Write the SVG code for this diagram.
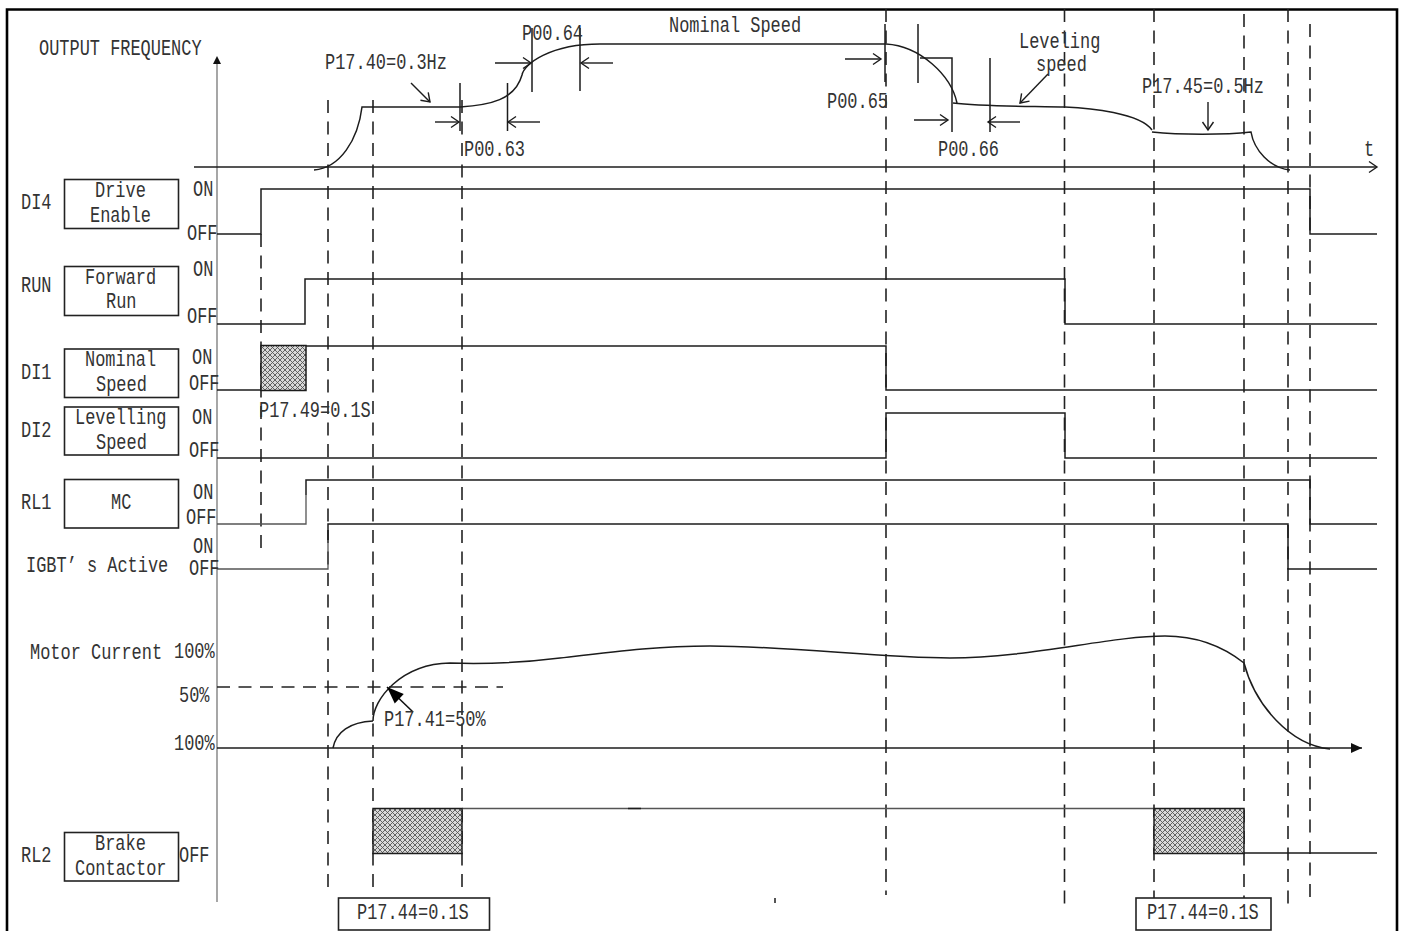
<svg xmlns="http://www.w3.org/2000/svg" width="1402" height="931" viewBox="0 0 1402 931">
<style>
text{font-family:"Liberation Mono","DejaVu Sans Mono",monospace;font-size:22px;fill:#333}
.s{fill:none;stroke:#1c1c1c;stroke-width:1.5}
.t{fill:none;stroke:#555;stroke-width:1.3}
.d{fill:none;stroke:#222;stroke-width:1.6;stroke-dasharray:13 8.5}
.a{fill:none;stroke:#1c1c1c;stroke-width:1.4;marker-end:url(#open)}
.box{fill:#fff;stroke:#222;stroke-width:1.6}
.h{fill:url(#hatch);stroke:#1c1c1c;stroke-width:1.5}
</style>
<defs>
<pattern id="hatch" width="5" height="5" patternUnits="userSpaceOnUse">
<rect width="5" height="5" fill="#d8d8d8"/>
<path d="M0 0L5 5M5 0L0 5" stroke="#555" stroke-width="0.9"/>
</pattern>
<marker id="open" markerUnits="userSpaceOnUse" markerWidth="12" markerHeight="14" refX="10" refY="7" orient="auto">
<path d="M2 1.5L10 7L2 12.5" fill="none" stroke="#1c1c1c" stroke-width="1.4"/>
</marker>
<marker id="fill" markerUnits="userSpaceOnUse" markerWidth="14" markerHeight="12" refX="12" refY="6" orient="auto">
<path d="M1 1L12 6L1 11Z" fill="#111"/>
</marker>
<marker id="big" markerUnits="userSpaceOnUse" markerWidth="20" markerHeight="16" refX="18" refY="8" orient="auto">
<path d="M1 1.500L18 8L1 14.500Z" fill="#000"/>
</marker>
</defs>
<rect width="1402" height="931" fill="#fff"/>
<path d="M7 932V9.5H1397V932" fill="none" stroke="#000" stroke-width="2.6"/>

<g id="connectors">
<g id="axes">
<path d="M217 902V63" stroke="#777" stroke-width="1.3" fill="none"/>
<path d="M217 56L213 64H221Z" fill="#111"/>
<path class="a" d="M194 167H1377"/>
<path class="s" d="M217 748H1362" marker-end="url(#fill)"/>
</g>
<g id="dashed-guides">
<path class="d" d="M261 234V548"/>
<path class="d" d="M328 100V893"/>
<path class="d" d="M373 100V893"/>
<path class="d" d="M462 100V893"/>
<path class="d" d="M886 9V895"/>
<path class="d" d="M1064.500 9V905"/>
<path class="d" d="M1154 9V898"/>
<path class="d" d="M1244 14V898"/>
<path class="d" d="M1288 9V910"/>
<path class="d" d="M1310 24V905"/>
<path class="d" d="M217 687H503"/>
</g>
<g id="frequency-curve">
<path class="s" d="M314 170C340 168 358 140 362 107H460C490 105 515 100 522 75C524 64 550 44 600 44H886C920 46 951 75 957 103"/>
<path class="s" d="M953 103C985 107 1040 106 1065 107C1090 108 1140 113 1152 130"/>
<path class="s" d="M1152 132C1180 135 1225 135 1251 132C1254 150 1270 168 1290 170"/>
</g>
<g id="ticks">
<path class="s" d="M460 83V131M507.500 83V131M532 28V92M580 28V91M885 24V82M918 24V83M952 132V58H920M990 58V132"/>
<path class="a" d="M435 122H459"/>
<path class="a" d="M540 122H508"/>
<path class="a" d="M495 63H531"/>
<path class="a" d="M613 63H581"/>
<path class="a" d="M411 83L430 102"/>
<path class="a" d="M845 59H881"/>
<path class="a" d="M914 120H948"/>
<path class="a" d="M1020 122H988"/>
<path class="a" d="M1048 74L1020 103"/>
<path class="a" d="M1208 102V130"/>
</g>
<g id="signals">
<path class="s" d="M217 234H261V189H1310V234H1377"/>
<path class="s" d="M217 324H305V279H1065V324H1377"/>
<path class="s" d="M217 390H261M306 346H886V390H1377"/>
<path class="s" d="M217 458H886V413H1065V458H1377"/>
<path class="t" d="M217 524H306V495"/>
<path class="s" d="M306 495V480H1310V524H1377"/>
<path class="t" d="M217 569H328V540"/>
<path class="s" d="M328 540V524H1288V569H1377"/>
<path class="t" d="M462 808.500H1154"/>
<path class="s" d="M628 808.500H641M1244 853H1377"/>
<path class="s" d="M775 898V903"/>
<rect class="h" x="261" y="345.500" width="45" height="45"/>
<rect class="h" x="373" y="808.500" width="89" height="45"/>
<rect class="h" x="1154" y="808.500" width="90" height="45"/>
</g>
<g id="current-curve">
<path class="s" d="M333 748C336 732 350 722 373 721"/>
<path class="s" d="M373 721C373 700 400 664 450 663C480 664 520 663 560 658C620 651 660 646 710 646C790 646 880 658 950 658C1030 658 1110 636 1165 636C1200 636 1225 648 1244 663C1255 705 1290 745 1330 749"/>
<path d="M413 712L387 687" fill="none" stroke="#111" stroke-width="1.6" marker-end="url(#big)"/>
</g>
</g>

<g id="node-drive-enable"><rect class="box" x="64.500" y="179.500" width="114" height="49"/>
<text transform="matrix(.77 0 0 1 95 197)">Drive</text>
<text transform="matrix(.77 0 0 1 90 222)">Enable</text></g>
<g id="node-forward-run"><rect class="box" x="64.500" y="266.500" width="114" height="49"/>
<text transform="matrix(.77 0 0 1 85 284)">Forward</text>
<text transform="matrix(.77 0 0 1 106 308)">Run</text></g>
<g id="node-nominal-speed"><rect class="box" x="64.500" y="349" width="114" height="48.500"/>
<text transform="matrix(.77 0 0 1 85 366)">Nominal</text>
<text transform="matrix(.77 0 0 1 96 391)">Speed</text></g>
<g id="node-levelling-speed"><rect class="box" x="64.500" y="407" width="114" height="48"/>
<text transform="matrix(.77 0 0 1 75 424)">Levelling</text>
<text transform="matrix(.77 0 0 1 96 449)">Speed</text></g>
<g id="node-mc"><rect class="box" x="64.500" y="479.500" width="114" height="48.500"/>
<text transform="matrix(.77 0 0 1 111 509)">MC</text></g>
<g id="node-brake-contactor"><rect class="box" x="64.500" y="832.500" width="114" height="48.500"/>
<text transform="matrix(.77 0 0 1 95 850)">Brake</text>
<text transform="matrix(.77 0 0 1 75 875)">Contactor</text></g>
<g id="node-p1744-a"><rect class="box" x="338.500" y="898" width="151" height="32"/>
<text transform="matrix(.77 0 0 1 357 919)">P17.44=0.1S</text></g>
<g id="node-p1744-b"><rect class="box" x="1136" y="898" width="135" height="32"/>
<text transform="matrix(.77 0 0 1 1147 919)">P17.44=0.1S</text></g>

<g id="labels">
<text transform="matrix(.77 0 0 1 39 55)">OUTPUT FREQUENCY</text>
<text transform="matrix(.77 0 0 1 325 69)">P17.40=0.3Hz</text>
<text transform="matrix(.77 0 0 1 522 40)">P00.64</text>
<text transform="matrix(.77 0 0 1 669 32)">Nominal Speed</text>
<text transform="matrix(.77 0 0 1 464 156)">P00.63</text>
<text transform="matrix(.77 0 0 1 1019 48)">Leveling</text>
<text transform="matrix(.77 0 0 1 1036 71)">speed</text>
<text transform="matrix(.77 0 0 1 827 108)">P00.65</text>
<text transform="matrix(.77 0 0 1 938 156)">P00.66</text>
<text transform="matrix(.77 0 0 1 1142 93)">P17.45=0.5Hz</text>
<text transform="matrix(.77 0 0 1 1364 156)">t</text>
<text transform="matrix(.77 0 0 1 21 209)">DI4</text>
<text transform="matrix(.77 0 0 1 21 292)">RUN</text>
<text transform="matrix(.77 0 0 1 21 379)">DI1</text>
<text transform="matrix(.77 0 0 1 21 437)">DI2</text>
<text transform="matrix(.77 0 0 1 21 509)">RL1</text>
<text transform="matrix(.77 0 0 1 21 862)">RL2</text>
<text transform="matrix(.77 0 0 1 193 196)">ON</text>
<text transform="matrix(.77 0 0 1 187 240)">OFF</text>
<text transform="matrix(.77 0 0 1 193 276)">ON</text>
<text transform="matrix(.77 0 0 1 187 323)">OFF</text>
<text transform="matrix(.77 0 0 1 192 364)">ON</text>
<text transform="matrix(.77 0 0 1 189 390)">OFF</text>
<text transform="matrix(.77 0 0 1 192 424)">ON</text>
<text transform="matrix(.77 0 0 1 189 457)">OFF</text>
<text transform="matrix(.77 0 0 1 193 499)">ON</text>
<text transform="matrix(.77 0 0 1 186 524)">OFF</text>
<text transform="matrix(.77 0 0 1 193 553)">ON</text>
<text transform="matrix(.77 0 0 1 189 575)">OFF</text>
<text transform="matrix(.77 0 0 1 26 572)">IGBT’ s Active</text>
<text transform="matrix(.77 0 0 1 259 417)">P17.49=0.1S</text>
<text transform="matrix(.77 0 0 1 30 659)">Motor Current</text>
<text transform="matrix(.77 0 0 1 174 658)">100%</text>
<text transform="matrix(.77 0 0 1 179 702)">50%</text>
<text transform="matrix(.77 0 0 1 174 750)">100%</text>
<text transform="matrix(.77 0 0 1 384 726)">P17.41=50%</text>
<text transform="matrix(.77 0 0 1 179 862)">OFF</text>
</g>
</svg>
